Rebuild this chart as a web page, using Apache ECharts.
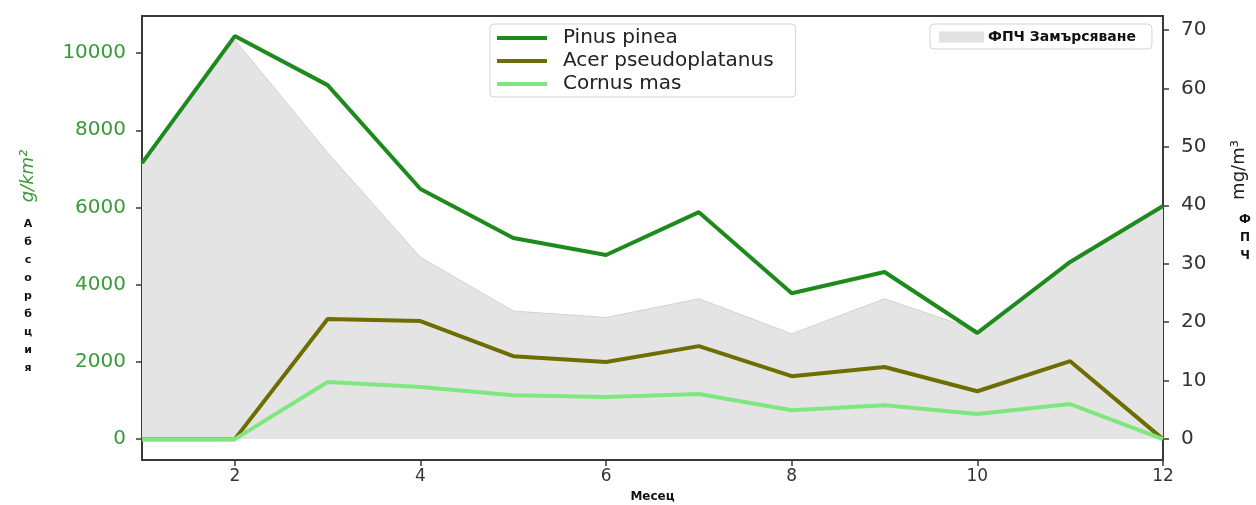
<!DOCTYPE html>
<html>
<head>
<meta charset="utf-8">
<script src="https://cdn.jsdelivr.net/npm/echarts@6/dist/echarts.min.js"></script>
<style>html,body{margin:0;padding:0;background:#fff}#c{width:1256px;height:505px}</style>
</head>
<body>
<div id="c"></div>
<script>
const months = [1,2,3,4,5,6,7,8,9,10,11,12];
const pinusPinea = [7150,10440,9170,6480,5210,4770,5880,3780,4330,2750,4590,6040];
const acerPseudoplatanus = [0,0,3110,3060,2150,2000,2410,1630,1870,1240,2020,0];
const cornusMas = [0,0,1480,1350,1140,1090,1170,750,880,650,910,0];
const pmPollution = [47,68.3,49,31.1,21.9,20.8,24,18,24,18.6,30.4,39.9];
const xTicks = [2,4,6,8,10,12];
const leftTicks = [0,2000,4000,6000,8000,10000];
const rightTicks = [0,10,20,30,40,50,60,70];

const pair = arr => months.map((m,i)=>[m,arr[i]]);
const FONT = 'DejaVu Sans';
const chart = echarts.init(document.getElementById('c'), null, {renderer:'canvas'});

const lineSeries = (name, data, color) => ({
  name, type:'line', data:pair(data), yAxisIndex:0, symbol:'none',
  lineStyle:{color, width:4}, itemStyle:{color}, z:5, animation:false
});

chart.setOption({
  animation:false,
  textStyle:{fontFamily:FONT},
  grid:{left:142, right:93, top:16, bottom:45, show:true, borderColor:'#3a3a3a', borderWidth:2,
        backgroundColor:'transparent', containLabel:false, outerBoundsMode:'none'},
  legend:[{
    data:['Pinus pinea','Acer pseudoplatanus','Cornus mas'],
    orient:'vertical', left:490, top:24, icon:'rect', itemWidth:50, itemHeight:4, itemGap:3,
    padding:[4,22,3,7], borderColor:'#d4d4d4', borderWidth:1, borderRadius:4, backgroundColor:'#fff',
    textStyle:{fontFamily:FONT, fontSize:20, color:'#222', padding:[0,0,0,11]}
  },{
    data:['ФПЧ Замърсяване'],
    orient:'vertical', left:930, top:24, icon:'rect', itemWidth:45, itemHeight:11, itemGap:0,
    padding:[6,16,5,9], borderColor:'#d4d4d4', borderWidth:1, borderRadius:4, backgroundColor:'#fff',
    textStyle:{fontFamily:FONT, fontSize:14, fontWeight:'bold', color:'#111', padding:[0,0,0,-1]}
  }],
  xAxis:{
    type:'value', min:1, max:12,
    axisLine:{show:false, onZero:false},
    axisTick:{show:true, length:6, lineStyle:{color:'#3a3a3a', width:1.5}, customValues:xTicks},
    axisLabel:{fontFamily:FONT, fontSize:17, color:'#333', margin:8, customValues:xTicks},
    splitLine:{show:false},
    name:'Месец', nameLocation:'middle', nameGap:31,
    nameTextStyle:{fontFamily:FONT, fontSize:12, fontWeight:'bold', color:'#111'}
  },
  yAxis:[{
    type:'value', min:-540, max:10960, position:'left',
    axisLine:{show:false, onZero:false},
    axisTick:{show:true, length:6, lineStyle:{color:'#3a3a3a', width:1.5}, customValues:leftTicks},
    axisLabel:{fontFamily:FONT, fontSize:20, color:'#3a9a3a', margin:16, customValues:leftTicks,
               formatter:v=>String(v)},
    splitLine:{show:false}
  },{
    type:'value', min:-3.6, max:72.4, position:'right',
    axisLine:{show:false, onZero:false},
    axisTick:{show:true, length:6, lineStyle:{color:'#3a3a3a', width:1.5}, customValues:rightTicks},
    axisLabel:{fontFamily:FONT, fontSize:20, color:'#333', margin:18, customValues:rightTicks,
               formatter:v=>String(v)},
    splitLine:{show:false}
  }],
  series:[
    {
      name:'ФПЧ Замърсяване', type:'line', data:pair(pmPollution), yAxisIndex:1, symbol:'none',
      lineStyle:{color:'#d2d2d2', width:1}, areaStyle:{color:'#e4e4e4', opacity:1},
      itemStyle:{color:'#e2e2e2'}, z:1
    },
    lineSeries('Pinus pinea', pinusPinea, '#1e8a1e'),
    lineSeries('Acer pseudoplatanus', acerPseudoplatanus, '#6e6e00'),
    lineSeries('Cornus mas', cornusMas, '#80e680')
  ],
  graphic:[
    {type:'text', x:28, y:176, rotation:Math.PI/2, style:{text:'g/km²', fontFamily:FONT, fontSize:18, fontStyle:'italic', fill:'#3a9a3a', textAlign:'center', textVerticalAlign:'middle'}},
    {type:'text', x:28, y:215, style:{text:'А\nб\nс\nо\nр\nб\nц\nи\nя', fontFamily:FONT, fontSize:11, fontWeight:'bold', fill:'#111', textAlign:'center', lineHeight:18}},
    {type:'text', x:1239, y:170, rotation:Math.PI/2, style:{text:'mg/m³', fontFamily:FONT, fontSize:18, fill:'#222', textAlign:'center', textVerticalAlign:'middle'}},
    {type:'text', x:1245, y:211, style:{text:'Ф\nП\nЧ', fontFamily:FONT, fontSize:12, fontWeight:'bold', fill:'#111', textAlign:'center', lineHeight:18}}
  ]
});
</script>
</body>
</html>
